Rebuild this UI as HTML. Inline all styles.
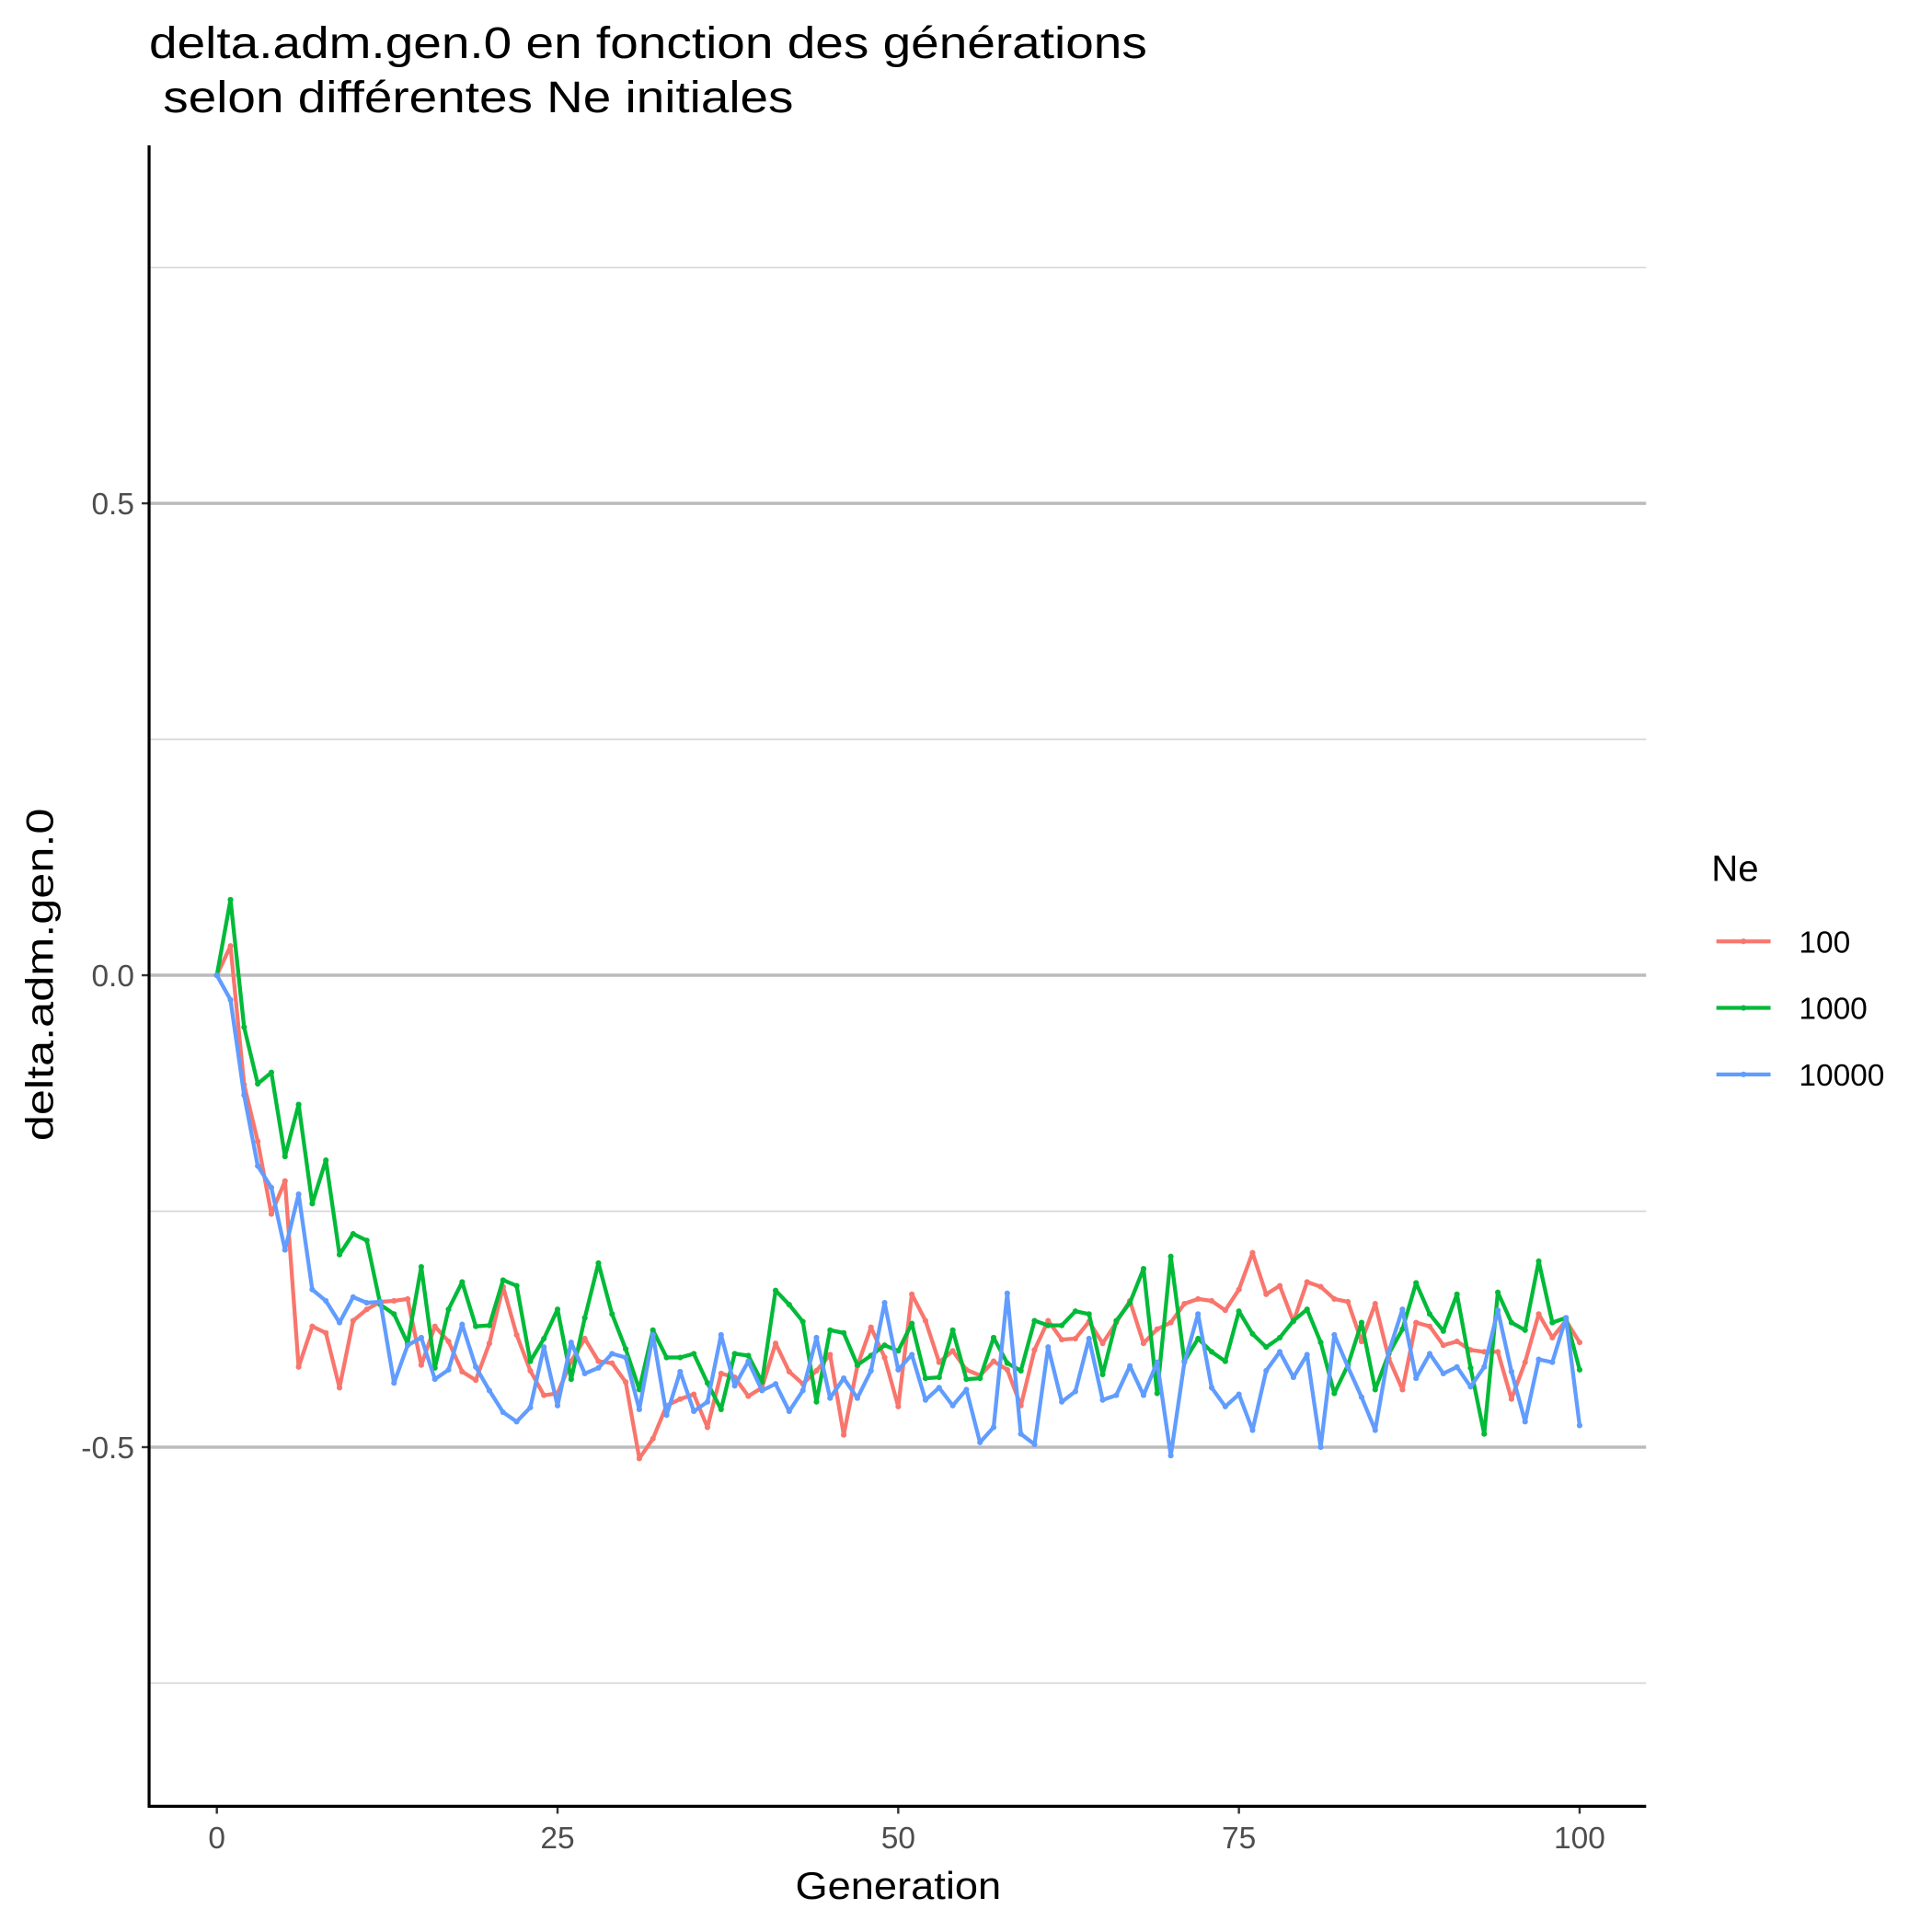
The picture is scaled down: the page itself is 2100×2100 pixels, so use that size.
<!DOCTYPE html>
<html><head><meta charset="utf-8"><style>
html,body{margin:0;padding:0;background:#fff;}
svg{display:block;font-family:"Liberation Sans",Arial,sans-serif;}
</style></head><body>
<svg id="chart" width="2100" height="2100" viewBox="0 0 1568 1568" xmlns="http://www.w3.org/2000/svg">
<rect width="1568" height="1568" fill="#fff"/>
<text x="121" y="47" font-size="36" fill="#000" textLength="810" lengthAdjust="spacingAndGlyphs">delta.adm.gen.0 en fonction des générations</text>
<text x="121" y="91" font-size="36" fill="#000" xml:space="preserve" textLength="523" lengthAdjust="spacingAndGlyphs"> selon différentes Ne initiales</text>
<g id="grid"></g>
<g id="series"></g>
<g id="axes"></g>
<text x="729" y="1541" font-size="31" text-anchor="middle" textLength="167" lengthAdjust="spacingAndGlyphs">Generation</text>
<text transform="translate(43,791) rotate(-90)" font-size="31" text-anchor="middle" textLength="270" lengthAdjust="spacingAndGlyphs">delta.adm.gen.0</text>
<g id="legend">
<text x="1389" y="715" font-size="30">Ne</text>
</g>
</svg>
<script>
const generations = Array.from({length:101},(_, i)=>i);
const seriesNames = ["100","1000","10000"];
const seriesColors = ["#F8766D","#00BA38","#619CFF"];
const values100 = [0,0.031,-0.116,-0.176,-0.253,-0.218,-0.415,-0.372,-0.379,-0.437,-0.366,-0.354,-0.346,-0.345,-0.343,-0.413,-0.372,-0.388,-0.420,-0.429,-0.390,-0.330,-0.381,-0.419,-0.445,-0.443,-0.409,-0.385,-0.409,-0.411,-0.431,-0.512,-0.491,-0.456,-0.449,-0.444,-0.479,-0.422,-0.426,-0.446,-0.437,-0.390,-0.420,-0.433,-0.419,-0.402,-0.487,-0.414,-0.373,-0.405,-0.457,-0.338,-0.366,-0.410,-0.398,-0.418,-0.424,-0.409,-0.418,-0.456,-0.397,-0.366,-0.386,-0.385,-0.367,-0.390,-0.368,-0.345,-0.390,-0.375,-0.368,-0.348,-0.343,-0.345,-0.355,-0.333,-0.294,-0.338,-0.329,-0.367,-0.325,-0.330,-0.343,-0.346,-0.388,-0.348,-0.406,-0.439,-0.368,-0.372,-0.392,-0.388,-0.397,-0.399,-0.399,-0.449,-0.410,-0.359,-0.384,-0.366,-0.389];
const values1000 = [0,0.080,-0.055,-0.115,-0.103,-0.192,-0.137,-0.242,-0.196,-0.296,-0.274,-0.281,-0.349,-0.359,-0.390,-0.309,-0.416,-0.354,-0.325,-0.372,-0.371,-0.323,-0.329,-0.409,-0.385,-0.354,-0.428,-0.363,-0.305,-0.359,-0.396,-0.439,-0.376,-0.405,-0.405,-0.401,-0.432,-0.460,-0.401,-0.403,-0.431,-0.334,-0.349,-0.367,-0.452,-0.376,-0.379,-0.413,-0.403,-0.392,-0.398,-0.369,-0.427,-0.426,-0.376,-0.428,-0.427,-0.384,-0.411,-0.419,-0.366,-0.371,-0.371,-0.356,-0.359,-0.423,-0.366,-0.347,-0.311,-0.443,-0.298,-0.409,-0.385,-0.399,-0.409,-0.356,-0.380,-0.394,-0.384,-0.366,-0.354,-0.389,-0.443,-0.413,-0.368,-0.439,-0.401,-0.375,-0.326,-0.359,-0.377,-0.338,-0.416,-0.486,-0.336,-0.368,-0.376,-0.303,-0.368,-0.363,-0.418];
const values10000 = [0,-0.026,-0.127,-0.202,-0.225,-0.291,-0.232,-0.333,-0.345,-0.368,-0.341,-0.347,-0.346,-0.432,-0.392,-0.384,-0.428,-0.418,-0.370,-0.415,-0.440,-0.463,-0.473,-0.458,-0.394,-0.456,-0.389,-0.422,-0.416,-0.401,-0.405,-0.460,-0.381,-0.466,-0.420,-0.462,-0.452,-0.381,-0.435,-0.409,-0.440,-0.433,-0.462,-0.440,-0.384,-0.448,-0.427,-0.448,-0.419,-0.347,-0.418,-0.402,-0.450,-0.437,-0.456,-0.439,-0.495,-0.479,-0.337,-0.486,-0.497,-0.394,-0.452,-0.441,-0.385,-0.450,-0.445,-0.414,-0.445,-0.410,-0.509,-0.410,-0.359,-0.437,-0.457,-0.444,-0.482,-0.419,-0.399,-0.426,-0.402,-0.500,-0.381,-0.415,-0.447,-0.482,-0.399,-0.354,-0.427,-0.401,-0.422,-0.415,-0.436,-0.415,-0.355,-0.420,-0.473,-0.407,-0.410,-0.363,-0.477];
const xTicks = [0,25,50,75,100];
const yTicks = [-0.5,0,0.5];
const yTickLabels = ["-0.5","0.0","0.5"];
const yMinor = [-0.75,-0.25,0.25,0.75];

const NS="http://www.w3.org/2000/svg";
const P={l:121,r:1336,t:118,b:1466};
function xs(v){return 176+(v-0)*(1282-176)/100;}
function ys(v){return 791.5-v*766;}
function mk(tag,attrs,parent){const e=document.createElementNS(NS,tag);for(const k in attrs)e.setAttribute(k,attrs[k]);parent.appendChild(e);return e;}
const grid=document.getElementById('grid'),axes=document.getElementById('axes'),ser=document.getElementById('series'),leg=document.getElementById('legend');
yMinor.forEach(v=>{const l=mk('line',{x1:P.l,x2:P.r,y1:ys(v),y2:ys(v),stroke:'#d4d4d4','stroke-width':1.2},grid);

});
yTicks.forEach((v,i)=>{const l=mk('line',{x1:P.l,x2:P.r,y1:ys(v),y2:ys(v),stroke:'#bbbbbb','stroke-width':2.6},grid);


const t=mk('line',{x1:P.l-6,x2:P.l,y1:ys(v),y2:ys(v),stroke:'#333','stroke-width':1.8},axes);


const tx=mk('text',{x:P.l-12,y:ys(v)+9,'font-size':25,'text-anchor':'end',fill:'#4d4d4d'},axes);tx.textContent=yTickLabels[i];

});
xTicks.forEach(v=>{const t=mk('line',{x1:xs(v),x2:xs(v),y1:P.b,y2:P.b+6,stroke:'#333','stroke-width':1.8},axes);


const tx=mk('text',{x:xs(v),y:P.b+34,'font-size':25,'text-anchor':'middle',fill:'#4d4d4d'},axes);tx.textContent=String(v);

});
const ya=mk('line',{x1:P.l,x2:P.l,y1:P.t,y2:P.b+1,stroke:'#000','stroke-width':2.4},axes);


const xa=mk('line',{x1:P.l-1,x2:P.r,y1:P.b,y2:P.b,stroke:'#000','stroke-width':2.4},axes);


[values100,values1000,values10000].forEach((vals,si)=>{
 const g=mk('g',{},ser);
 
 
 const pl=mk('polyline',{points:vals.map((v,i)=>xs(generations[i])+','+ys(v)).join(' '),fill:'none',stroke:seriesColors[si],'stroke-width':3.2,'stroke-linejoin':'round'},g);
 
 
 vals.forEach((v,i)=>{const c=mk('circle',{cx:xs(generations[i]),cy:ys(v),r:2.3,fill:seriesColors[si]},g);
 
 });
 const ky=764+si*54;
 const kg=mk('g',{},leg);
 
 
 mk('line',{x1:1393,x2:1437,y1:ky,y2:ky,stroke:seriesColors[si],'stroke-width':3.2},kg);
 mk('circle',{cx:1415,cy:ky,r:2.3,fill:seriesColors[si]},kg);
 const lt=mk('text',{x:1460,y:ky+9,'font-size':25,fill:'#000'},kg);lt.textContent=seriesNames[si];
 
 
});
</script>
</body></html>
